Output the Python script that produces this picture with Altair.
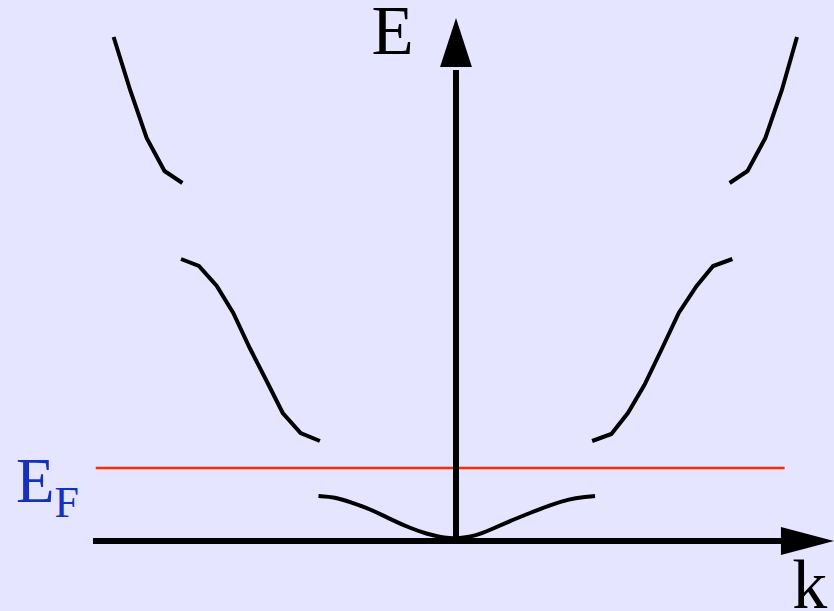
import altair as alt
import pandas as pd

# Nearly-free-electron band structure: E(k) with gaps at the zone boundaries.
# k in units of pi/a, energy in arbitrary units.

# lowest band, k = -1 .. 1 (smooth cosine-like band)
band1_k = [-1.00, -0.88, -0.77, -0.625, -0.48, -0.335, -0.21, -0.116, -0.044, 0.00,
           0.029, 0.138, 0.247, 0.393, 0.538, 0.684, 0.829, 0.924, 1.011]
band1_E = [0.45, 0.44, 0.39, 0.32, 0.22, 0.13, 0.07, 0.04, 0.03, 0.025,
           0.03, 0.05, 0.11, 0.20, 0.28, 0.36, 0.42, 0.44, 0.45]

# second band, left branch (k = -2 .. -1) and right branch (k = 1 .. 2)
band2L_k = [-2.00, -1.87, -1.74, -1.62, -1.50, -1.37, -1.26, -1.13, -0.99]
band2L_E = [2.82, 2.75, 2.55, 2.28, 1.93, 1.58, 1.28, 1.08, 1.00]
band2R_k = [0.99, 1.13, 1.25, 1.37, 1.50, 1.62, 1.75, 1.87, 2.01]
band2R_E = [1.00, 1.07, 1.28, 1.56, 1.93, 2.28, 2.55, 2.75, 2.82]

# third band, outer branches beyond |k| = 2
band3L_k = [-2.49, -2.37, -2.25, -2.12, -1.99]
band3L_E = [5.04, 4.51, 4.03, 3.70, 3.58]
band3R_k = [1.99, 2.12, 2.25, 2.37, 2.48]
band3R_E = [3.58, 3.70, 4.03, 4.51, 5.04]

# Fermi level
fermi_E = 0.73
fermi_k = [-2.62, 2.39]

# axis extents
k_axis = [-2.64, 2.43]
E_axis = [0.0, 4.71]
arrow_E_tip = [0.0, 4.985]   # centre of the E-arrow head (k=0)
arrow_k_tip = [2.556, 0.0]   # centre of the k-arrow head (E=0)

K_DOMAIN = [-3.3164, 2.7491]
E_DOMAIN = [-0.70, 5.41]
W, H = 834, 611


def frame(pairs):
    rows = []
    for name, ks, es in pairs:
        for i, (k, e) in enumerate(zip(ks, es)):
            rows.append({"branch": name, "i": i, "k": k, "E": e})
    return pd.DataFrame(rows)


upper_bands = frame([("b2L", band2L_k, band2L_E), ("b2R", band2R_k, band2R_E),
                     ("b3L", band3L_k, band3L_E), ("b3R", band3R_k, band3R_E)])
lowest_band = frame([("b1", band1_k, band1_E)])

xs = alt.Scale(domain=K_DOMAIN, nice=False, zero=False)
ys = alt.Scale(domain=E_DOMAIN, nice=False, zero=False)
X = lambda f: alt.X(f, type="quantitative", scale=xs, axis=None)
Y = lambda f: alt.Y(f, type="quantitative", scale=ys, axis=None)

band_lines = alt.Chart(upper_bands).mark_line(
    color="black", strokeWidth=4, strokeCap="butt", strokeJoin="miter"
).encode(x=X("k"), y=Y("E"), detail="branch:N", order="i:Q")

band1_line = alt.Chart(lowest_band).mark_line(
    color="black", strokeWidth=4, strokeCap="butt", interpolate="basis"
).encode(x=X("k"), y=Y("E"), order="i:Q")

fermi = alt.Chart(pd.DataFrame({"k1": [fermi_k[0]], "k2": [fermi_k[1]], "E": [fermi_E]})).mark_rule(
    color="#ff2a00", strokeWidth=2.5
).encode(x=X("k1"), x2="k2", y=Y("E"))

k_line = alt.Chart(pd.DataFrame({"k1": [k_axis[0]], "k2": [k_axis[1]], "E": [0.0]})).mark_rule(
    color="black", strokeWidth=6
).encode(x=X("k1"), x2="k2", y=Y("E"))

E_line = alt.Chart(pd.DataFrame({"k": [0.0], "E1": [E_axis[0]], "E2": [E_axis[1]]})).mark_rule(
    color="black", strokeWidth=6
).encode(x=X("k"), y=Y("E1"), y2="E2")

E_head = alt.Chart(pd.DataFrame({"k": [arrow_E_tip[0]], "E": [arrow_E_tip[1]]})).mark_point(
    shape="M0,-1 L0.65,1 L-0.65,1 Z", size=2401, filled=True, color="black", opacity=1, strokeWidth=0
).encode(x=X("k"), y=Y("E"))

k_head = alt.Chart(pd.DataFrame({"k": [arrow_k_tip[0]], "E": [arrow_k_tip[1]]})).mark_point(
    shape="M1,0 L-1,0.53 L-1,-0.53 Z", size=2809, filled=True, color="black", opacity=1, strokeWidth=0
).encode(x=X("k"), y=Y("E"))


def label(text, k, e, size, color):
    return alt.Chart(pd.DataFrame({"k": [k], "E": [e], "t": [text]})).mark_text(
        font="Liberation Serif", fontSize=size, color=color, align="left", baseline="alphabetic"
    ).encode(x=X("k"), y=Y("E"), text="t:N")


labels = [
    label("E", -0.615, 4.87, 69, "black"),
    label("E", -3.20, 0.39, 63, "#1531b8"),
    label("F", -2.92, 0.24, 44, "#1531b8"),
    label("k", 2.445, -0.67, 70, "black"),
]

chart = alt.layer(fermi, band_lines, band1_line, k_line, E_line, E_head, k_head, *labels).properties(
    width=W, height=H, padding=0, autosize=alt.AutoSizeParams(type="none"),
    background="#e5e5ff"
).configure_view(stroke=None)

chart.save("out.html", embed_options={"renderer": "svg", "actions": False})
